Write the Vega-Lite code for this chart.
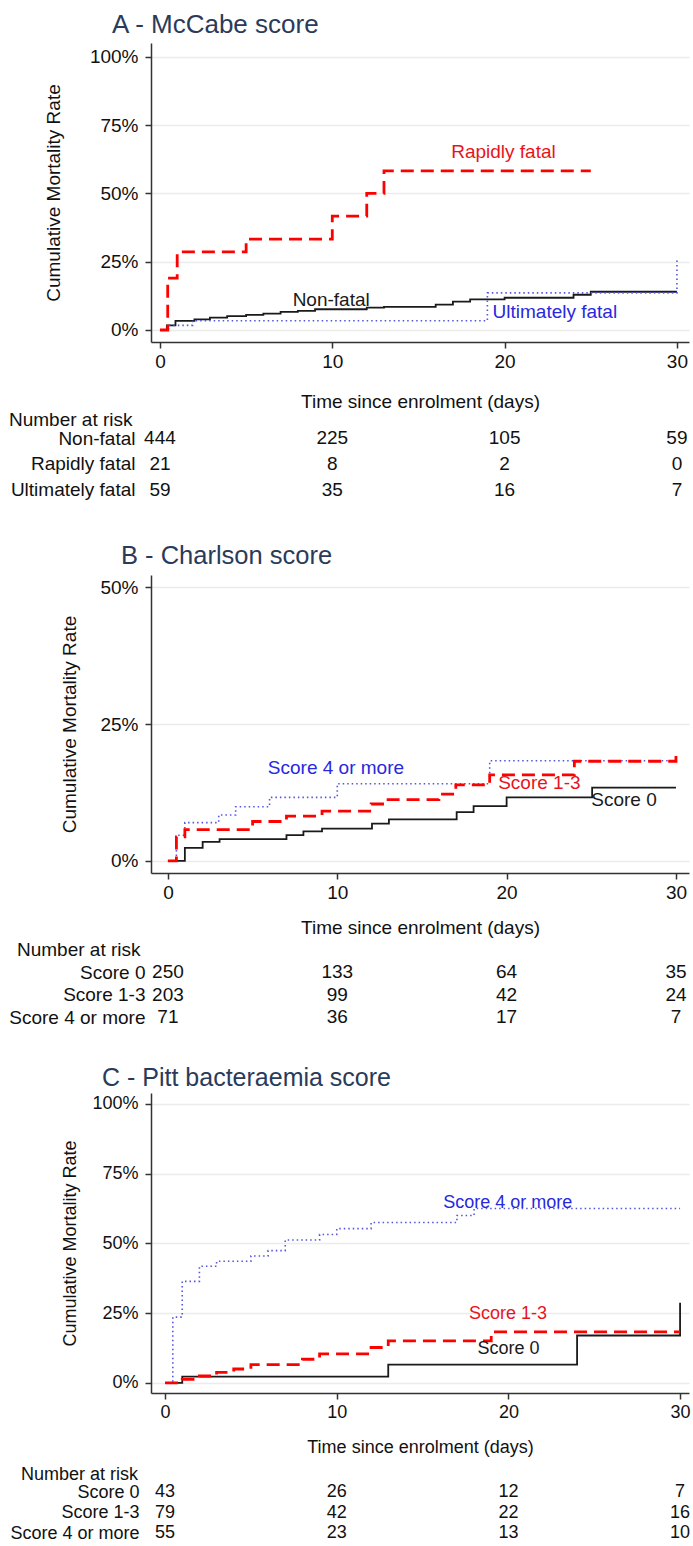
{
  "$schema": "https://vega.github.io/schema/vega-lite/v6.json",
  "padding": {"left": 8, "top": 12, "right": 0, "bottom": 0},
  "config": {
    "font": "Liberation Sans",
    "view": {"stroke": null},
    "axis": {"labelFontSize": 19, "titleFontSize": 19, "titleFontWeight": "normal", "labelColor": "#111111", "titleColor": "#111111", "domainColor": "#333333", "tickColor": "#333333", "domainWidth": 1.5, "tickWidth": 1.5, "tickSize": 6, "gridColor": "#ebebeb", "gridWidth": 1.3},
    "axisX": {"labelPadding": 4},
    "axisY": {"labelPadding": 7},
    "title": {"fontWeight": "normal", "font": "Liberation Sans"}
  },
  "datasets": {
    "curvesA": [
      {"g": "Non-fatal", "t": 0, "p": 0}, {"g": "Non-fatal", "t": 0.4, "p": 1.7}, {"g": "Non-fatal", "t": 0.9, "p": 3.3}, {"g": "Non-fatal", "t": 2, "p": 3.9}, {"g": "Non-fatal", "t": 2.9, "p": 4.5}, {"g": "Non-fatal", "t": 3.9, "p": 5.1}, {"g": "Non-fatal", "t": 5, "p": 5.5}, {"g": "Non-fatal", "t": 6, "p": 6.0}, {"g": "Non-fatal", "t": 7, "p": 6.6}, {"g": "Non-fatal", "t": 8, "p": 7.0}, {"g": "Non-fatal", "t": 9, "p": 7.6}, {"g": "Non-fatal", "t": 12, "p": 8.2}, {"g": "Non-fatal", "t": 13, "p": 8.5}, {"g": "Non-fatal", "t": 16, "p": 9.3}, {"g": "Non-fatal", "t": 17, "p": 10.4}, {"g": "Non-fatal", "t": 18, "p": 11.2}, {"g": "Non-fatal", "t": 20, "p": 11.8}, {"g": "Non-fatal", "t": 24, "p": 12.9}, {"g": "Non-fatal", "t": 25, "p": 14.0}, {"g": "Non-fatal", "t": 30, "p": 14.0},
      {"g": "Rapidly fatal", "t": 0, "p": 0}, {"g": "Rapidly fatal", "t": 0.45, "p": 19.0}, {"g": "Rapidly fatal", "t": 1, "p": 28.6}, {"g": "Rapidly fatal", "t": 5, "p": 33.3}, {"g": "Rapidly fatal", "t": 10, "p": 41.7}, {"g": "Rapidly fatal", "t": 12, "p": 50.0}, {"g": "Rapidly fatal", "t": 13, "p": 58.3}, {"g": "Rapidly fatal", "t": 25, "p": 58.3},
      {"g": "Ultimately fatal", "t": 0, "p": 0}, {"g": "Ultimately fatal", "t": 0.5, "p": 1.7}, {"g": "Ultimately fatal", "t": 1.9, "p": 3.4}, {"g": "Ultimately fatal", "t": 19, "p": 13.6}, {"g": "Ultimately fatal", "t": 30, "p": 26.2}
    ],
    "labelsA": [
      {"g": "Rapidly fatal", "t": 16.9, "p": 65.2},
      {"g": "Non-fatal", "t": 7.7, "p": 11.0},
      {"g": "Ultimately fatal", "t": 19.3, "p": 6.6}
    ],
    "riskA": [
      {"g": "Non-fatal", "t": 0, "n": 444}, {"g": "Non-fatal", "t": 10, "n": 225}, {"g": "Non-fatal", "t": 20, "n": 105}, {"g": "Non-fatal", "t": 30, "n": 59},
      {"g": "Rapidly fatal", "t": 0, "n": 21}, {"g": "Rapidly fatal", "t": 10, "n": 8}, {"g": "Rapidly fatal", "t": 20, "n": 2}, {"g": "Rapidly fatal", "t": 30, "n": 0},
      {"g": "Ultimately fatal", "t": 0, "n": 59}, {"g": "Ultimately fatal", "t": 10, "n": 35}, {"g": "Ultimately fatal", "t": 20, "n": 16}, {"g": "Ultimately fatal", "t": 30, "n": 7}
    ],
    "curvesB": [
      {"g": "Score 0", "t": 0, "p": 0}, {"g": "Score 0", "t": 1, "p": 2.4}, {"g": "Score 0", "t": 2.05, "p": 3.5}, {"g": "Score 0", "t": 3.05, "p": 4.0}, {"g": "Score 0", "t": 7, "p": 4.7}, {"g": "Score 0", "t": 8, "p": 5.4}, {"g": "Score 0", "t": 9.1, "p": 5.9}, {"g": "Score 0", "t": 12.05, "p": 6.8}, {"g": "Score 0", "t": 13.05, "p": 7.6}, {"g": "Score 0", "t": 17.05, "p": 8.9}, {"g": "Score 0", "t": 18.05, "p": 10.0}, {"g": "Score 0", "t": 20, "p": 11.6}, {"g": "Score 0", "t": 25.05, "p": 13.4}, {"g": "Score 0", "t": 30, "p": 13.4},
      {"g": "Score 1-3", "t": 0, "p": 0}, {"g": "Score 1-3", "t": 0.5, "p": 4.4}, {"g": "Score 1-3", "t": 1, "p": 5.7}, {"g": "Score 1-3", "t": 5, "p": 7.2}, {"g": "Score 1-3", "t": 7, "p": 8.2}, {"g": "Score 1-3", "t": 9.1, "p": 9.1}, {"g": "Score 1-3", "t": 12, "p": 10.4}, {"g": "Score 1-3", "t": 13, "p": 11.2}, {"g": "Score 1-3", "t": 16, "p": 12.2}, {"g": "Score 1-3", "t": 17, "p": 13.9}, {"g": "Score 1-3", "t": 19, "p": 15.7}, {"g": "Score 1-3", "t": 24, "p": 18.2}, {"g": "Score 1-3", "t": 30, "p": 20.4},
      {"g": "Score 4 or more", "t": 0, "p": 0}, {"g": "Score 4 or more", "t": 0.5, "p": 4.7}, {"g": "Score 4 or more", "t": 1, "p": 7.0}, {"g": "Score 4 or more", "t": 3, "p": 8.4}, {"g": "Score 4 or more", "t": 4, "p": 9.9}, {"g": "Score 4 or more", "t": 6, "p": 11.6}, {"g": "Score 4 or more", "t": 10, "p": 14.1}, {"g": "Score 4 or more", "t": 19, "p": 18.3}, {"g": "Score 4 or more", "t": 30, "p": 18.3}
    ],
    "labelsB": [
      {"g": "Score 4 or more", "t": 5.9, "p": 17.0},
      {"g": "Score 1-3", "t": 19.5, "p": 14.2},
      {"g": "Score 0", "t": 25.0, "p": 11.2}
    ],
    "riskB": [
      {"g": "Score 0", "t": 0, "n": 250}, {"g": "Score 0", "t": 10, "n": 133}, {"g": "Score 0", "t": 20, "n": 64}, {"g": "Score 0", "t": 30, "n": 35},
      {"g": "Score 1-3", "t": 0, "n": 203}, {"g": "Score 1-3", "t": 10, "n": 99}, {"g": "Score 1-3", "t": 20, "n": 42}, {"g": "Score 1-3", "t": 30, "n": 24},
      {"g": "Score 4 or more", "t": 0, "n": 71}, {"g": "Score 4 or more", "t": 10, "n": 36}, {"g": "Score 4 or more", "t": 20, "n": 17}, {"g": "Score 4 or more", "t": 30, "n": 7}
    ],
    "curvesC": [
      {"g": "Score 0", "t": 0, "p": 0}, {"g": "Score 0", "t": 1, "p": 2.3}, {"g": "Score 0", "t": 13, "p": 6.6}, {"g": "Score 0", "t": 24, "p": 17.0}, {"g": "Score 0", "t": 30, "p": 28.7},
      {"g": "Score 1-3", "t": 0, "p": 0}, {"g": "Score 1-3", "t": 1, "p": 1.3}, {"g": "Score 1-3", "t": 2, "p": 2.5}, {"g": "Score 1-3", "t": 3, "p": 3.8}, {"g": "Score 1-3", "t": 4, "p": 5.0}, {"g": "Score 1-3", "t": 5, "p": 6.6}, {"g": "Score 1-3", "t": 8, "p": 8.5}, {"g": "Score 1-3", "t": 9, "p": 10.4}, {"g": "Score 1-3", "t": 12, "p": 12.7}, {"g": "Score 1-3", "t": 13, "p": 15.1}, {"g": "Score 1-3", "t": 19, "p": 18.3}, {"g": "Score 1-3", "t": 30, "p": 18.3},
      {"g": "Score 4 or more", "t": 0, "p": 0}, {"g": "Score 4 or more", "t": 0.45, "p": 23.6}, {"g": "Score 4 or more", "t": 1, "p": 36.4}, {"g": "Score 4 or more", "t": 2, "p": 41.8}, {"g": "Score 4 or more", "t": 3, "p": 43.6}, {"g": "Score 4 or more", "t": 5, "p": 45.5}, {"g": "Score 4 or more", "t": 6, "p": 47.4}, {"g": "Score 4 or more", "t": 7, "p": 51.2}, {"g": "Score 4 or more", "t": 9, "p": 53.2}, {"g": "Score 4 or more", "t": 10, "p": 55.3}, {"g": "Score 4 or more", "t": 12, "p": 57.5}, {"g": "Score 4 or more", "t": 17, "p": 60.0}, {"g": "Score 4 or more", "t": 18, "p": 62.5}, {"g": "Score 4 or more", "t": 30, "p": 62.5}
    ],
    "labelsC": [
      {"g": "Score 4 or more", "t": 16.2, "p": 64.5},
      {"g": "Score 1-3", "t": 17.7, "p": 24.7},
      {"g": "Score 0", "t": 18.2, "p": 12.2}
    ],
    "riskC": [
      {"g": "Score 0", "t": 0, "n": 43}, {"g": "Score 0", "t": 10, "n": 26}, {"g": "Score 0", "t": 20, "n": 12}, {"g": "Score 0", "t": 30, "n": 7},
      {"g": "Score 1-3", "t": 0, "n": 79}, {"g": "Score 1-3", "t": 10, "n": 42}, {"g": "Score 1-3", "t": 20, "n": 22}, {"g": "Score 1-3", "t": 30, "n": 16},
      {"g": "Score 4 or more", "t": 0, "n": 55}, {"g": "Score 4 or more", "t": 10, "n": 23}, {"g": "Score 4 or more", "t": 20, "n": 13}, {"g": "Score 4 or more", "t": 30, "n": 10}
    ]
  },
  "spacing": 65,
  "bounds": "flush",
  "vconcat": [
    {
      "width": 538,
      "height": 299,
      "title": {"text": "A - McCabe score", "anchor": "start", "frame": "group", "dx": -39, "fontSize": 26, "color": "#2a3b5a", "offset": 5},
      "encoding": {
        "x": {"field": "t", "type": "quantitative", "scale": {"domain": [-0.52, 30.7], "nice": false, "zero": false}, "axis": {"values": [0, 10, 20, 30], "title": "Time since enrolment (days)", "grid": false, "titlePadding": 21}},
        "y": {"field": "p", "type": "quantitative", "scale": {"domain": [-4.4, 105.1], "nice": false, "zero": false}, "axis": {"values": [0, 25, 50, 75, 100], "labelExpr": "datum.value + '%'", "title": "Cumulative Mortality Rate", "titlePadding": 26}}
      },
      "layer": [
        {"data": {"name": "curvesA"}, "transform": [{"filter": "datum.g == 'Non-fatal'"}], "mark": {"type": "line", "interpolate": "step-after", "stroke": "#1a1a1a", "strokeWidth": 1.8}},
        {"data": {"name": "curvesA"}, "transform": [{"filter": "datum.g == 'Ultimately fatal'"}], "mark": {"type": "line", "interpolate": "step-after", "stroke": "#5555dd", "strokeWidth": 1.6, "strokeDash": [1.5, 3]}},
        {"data": {"name": "curvesA"}, "transform": [{"filter": "datum.g == 'Rapidly fatal'"}], "mark": {"type": "line", "interpolate": "step-after", "stroke": "#ff0000", "strokeWidth": 2.8, "strokeDash": [13, 7]}},
        {"data": {"name": "labelsA"}, "mark": {"type": "text", "align": "left", "baseline": "middle", "fontSize": 19},
         "encoding": {"text": {"field": "g"}, "color": {"field": "g", "type": "nominal", "scale": {"domain": ["Non-fatal", "Rapidly fatal", "Ultimately fatal"], "range": ["#1a1a1a", "#e8141c", "#2828e0"]}, "legend": null}}}
      ]
    },
    {
      "width": 538,
      "height": 103,
      "title": {"text": "Number at risk", "anchor": "start", "frame": "group", "dx": -142, "fontSize": 19, "color": "#111111", "offset": -23},
      "data": {"name": "riskA"},
      "mark": {"type": "text", "fontSize": 19, "color": "#111111", "baseline": "middle"},
      "encoding": {
        "x": {"field": "t", "type": "quantitative", "scale": {"domain": [-0.52, 30.7], "nice": false, "zero": false}, "axis": null},
        "y": {"field": "g", "type": "nominal", "scale": {"type": "point", "padding": 1.289, "align": 0.603, "domain": ["Non-fatal", "Rapidly fatal", "Ultimately fatal"]}, "axis": {"title": null, "domain": false, "ticks": false, "grid": false, "labelPadding": 16}},
        "text": {"field": "n", "type": "quantitative"}
      }
    },
    {
      "width": 538,
      "height": 298,
      "title": {"text": "B - Charlson score", "anchor": "start", "frame": "group", "dx": -30, "fontSize": 25.5, "color": "#2a3b5a", "offset": 6},
      "encoding": {
        "x": {"field": "t", "type": "quantitative", "scale": {"domain": [-1.0, 30.77], "nice": false, "zero": false}, "axis": {"values": [0, 10, 20, 30], "title": "Time since enrolment (days)", "grid": false, "titlePadding": 16}},
        "y": {"field": "p", "type": "quantitative", "scale": {"domain": [-2.2, 52.2], "nice": false, "zero": false}, "axis": {"values": [0, 25, 50], "labelExpr": "datum.value + '%'", "title": "Cumulative Mortality Rate", "titlePadding": 20}}
      },
      "layer": [
        {"data": {"name": "curvesB"}, "transform": [{"filter": "datum.g == 'Score 0'"}], "mark": {"type": "line", "interpolate": "step-after", "stroke": "#1a1a1a", "strokeWidth": 1.8}},
        {"data": {"name": "curvesB"}, "transform": [{"filter": "datum.g == 'Score 4 or more'"}], "mark": {"type": "line", "interpolate": "step-after", "stroke": "#5555dd", "strokeWidth": 1.6, "strokeDash": [1.5, 3]}},
        {"data": {"name": "curvesB"}, "transform": [{"filter": "datum.g == 'Score 1-3'"}], "mark": {"type": "line", "interpolate": "step-after", "stroke": "#ff0000", "strokeWidth": 2.8, "strokeDash": [13, 7]}},
        {"data": {"name": "labelsB"}, "mark": {"type": "text", "align": "left", "baseline": "middle", "fontSize": 19},
         "encoding": {"text": {"field": "g"}, "color": {"field": "g", "type": "nominal", "scale": {"domain": ["Score 0", "Score 1-3", "Score 4 or more"], "range": ["#1a1a1a", "#e8141c", "#2828e0"]}, "legend": null}}}
      ]
    },
    {
      "width": 538,
      "height": 90,
      "title": {"text": "Number at risk", "anchor": "start", "frame": "group", "dx": -134, "fontSize": 19, "color": "#111111", "offset": -22},
      "data": {"name": "riskB"},
      "mark": {"type": "text", "fontSize": 19, "color": "#111111", "baseline": "middle"},
      "encoding": {
        "x": {"field": "t", "type": "quantitative", "scale": {"domain": [-1.0, 30.77], "nice": false, "zero": false}, "axis": null},
        "y": {"field": "g", "type": "nominal", "scale": {"type": "point", "padding": 1.0, "align": 0.756, "domain": ["Score 0", "Score 1-3", "Score 4 or more"]}, "axis": {"title": null, "domain": false, "ticks": false, "grid": false, "labelPadding": 6}},
        "text": {"field": "n", "type": "quantitative"}
      }
    },
    {
      "width": 538,
      "height": 300,
      "title": {"text": "C - Pitt bacteraemia score", "anchor": "start", "frame": "group", "dx": -49, "fontSize": 25, "color": "#2a3b5a", "offset": 2},
      "encoding": {
        "x": {"field": "t", "type": "quantitative", "scale": {"domain": [-0.82, 30.52], "nice": false, "zero": false}, "axis": {"values": [0, 10, 20, 30], "title": "Time since enrolment (days)", "grid": false, "titlePadding": 17, "labelFontSize": 18, "titleFontSize": 18}},
        "y": {"field": "p", "type": "quantitative", "scale": {"domain": [-3.6, 103.9], "nice": false, "zero": false}, "axis": {"values": [0, 25, 50, 75, 100], "labelExpr": "datum.value + '%'", "title": "Cumulative Mortality Rate", "titlePadding": 12, "labelFontSize": 18, "titleFontSize": 18}}
      },
      "layer": [
        {"data": {"name": "curvesC"}, "transform": [{"filter": "datum.g == 'Score 0'"}], "mark": {"type": "line", "interpolate": "step-after", "stroke": "#1a1a1a", "strokeWidth": 1.8}},
        {"data": {"name": "curvesC"}, "transform": [{"filter": "datum.g == 'Score 4 or more'"}], "mark": {"type": "line", "interpolate": "step-after", "stroke": "#5555dd", "strokeWidth": 1.6, "strokeDash": [1.5, 3]}},
        {"data": {"name": "curvesC"}, "transform": [{"filter": "datum.g == 'Score 1-3'"}], "mark": {"type": "line", "interpolate": "step-after", "stroke": "#ff0000", "strokeWidth": 2.8, "strokeDash": [13, 7]}},
        {"data": {"name": "labelsC"}, "mark": {"type": "text", "align": "left", "baseline": "middle", "fontSize": 18},
         "encoding": {"text": {"field": "g"}, "color": {"field": "g", "type": "nominal", "scale": {"domain": ["Score 0", "Score 1-3", "Score 4 or more"], "range": ["#1a1a1a", "#e8141c", "#2828e0"]}, "legend": null}}}
      ]
    },
    {
      "width": 538,
      "height": 80,
      "title": {"text": "Number at risk", "anchor": "start", "frame": "group", "dx": -130, "fontSize": 18, "color": "#111111", "offset": -26},
      "data": {"name": "riskC"},
      "mark": {"type": "text", "fontSize": 18, "color": "#111111", "baseline": "middle"},
      "encoding": {
        "x": {"field": "t", "type": "quantitative", "scale": {"domain": [-0.82, 30.52], "nice": false, "zero": false}, "axis": null},
        "y": {"field": "g", "type": "nominal", "scale": {"type": "point", "padding": 0.951, "align": 0.872, "domain": ["Score 0", "Score 1-3", "Score 4 or more"]}, "axis": {"title": null, "domain": false, "ticks": false, "grid": false, "labelPadding": 12, "labelFontSize": 18}},
        "text": {"field": "n", "type": "quantitative"}
      }
    }
  ]
}
